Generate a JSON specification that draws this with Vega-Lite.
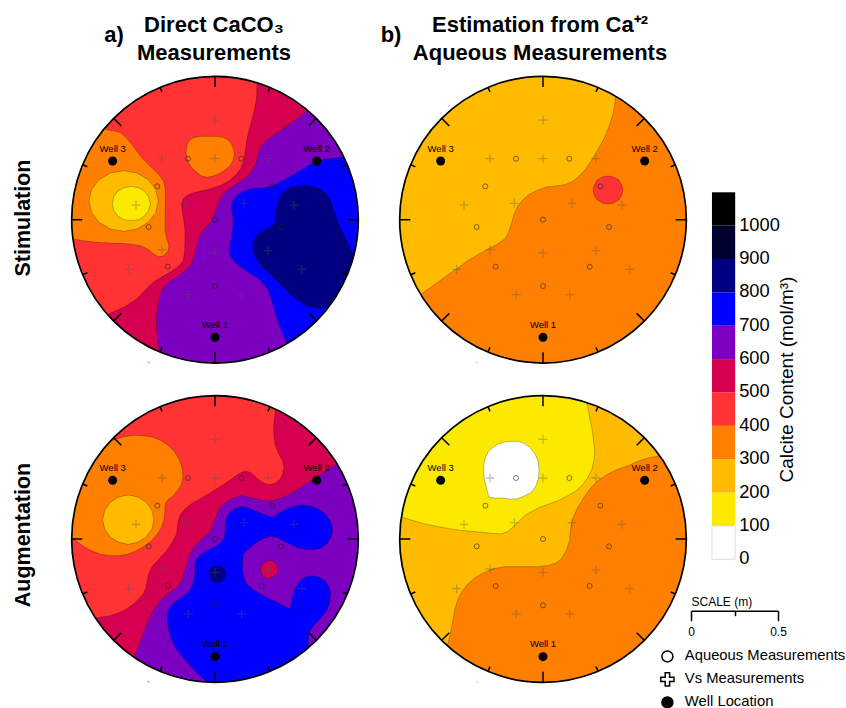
{"$schema":"https://vega.github.io/schema/vega-lite/v6.json","background":"white","padding":0,"autosize":{"type":"pad"},"config":{"view":{"stroke":null},"font":"Liberation Sans"},"datasets":{"center":[{"lon":0,"lat":0}],"stray":[{"type":"Feature","properties":{},"geometry":{"type":"LineString","coordinates":[[-203,-426],[-195,-431]]}}],"ticks":[{"type":"Feature","properties":{},"geometry":{"type":"MultiLineString","coordinates":[[[0,430],[0,398]],[[0,-430],[0,-398]],[[430,0],[398,0]],[[-430,0],[-398,0]],[[304,304],[281,281]],[[-304,304],[-281,281]],[[304,-304],[281,-281]],[[-304,-304],[-281,-281]],[[397,165],[383,159]],[[165,397],[159,383]],[[-397,165],[-383,159]],[[-165,397],[-159,383]],[[397,-165],[383,-159]],[[165,-397],[159,-383]],[[-397,-165],[-383,-159]],[[-165,-397],[-159,-383]]]}}],"aqueous":[{"lon":-81,"lat":183},{"lon":79,"lat":183},{"lon":-173,"lat":100},{"lon":172,"lat":100},{"lon":0,"lat":0},{"lon":-199,"lat":-22},{"lon":198,"lat":-22},{"lon":-142,"lat":-141},{"lon":140,"lat":-141},{"lon":0,"lat":-199}],"vs":[{"lon":0,"lat":299},{"lon":-159,"lat":183},{"lon":0,"lat":183},{"lon":159,"lat":183},{"lon":-237,"lat":44},{"lon":-86,"lat":49},{"lon":87,"lat":49},{"lon":237,"lat":44},{"lon":-159,"lat":-90},{"lon":0,"lat":-100},{"lon":159,"lat":-93},{"lon":-259,"lat":-149},{"lon":260,"lat":-149},{"lon":-80,"lat":-225},{"lon":80,"lat":-225}],"wells":[{"name":"Well 1","lon":0,"lat":-353},{"name":"Well 2","lon":305,"lat":176},{"name":"Well 3","lon":-307,"lat":176}],"bands":[{"low":0,"high":100},{"low":100,"high":200},{"low":200,"high":300},{"low":300,"high":400},{"low":400,"high":500},{"low":500,"high":600},{"low":600,"high":700},{"low":700,"high":800},{"low":800,"high":900},{"low":900,"high":1000},{"low":1000,"high":1100}],"legendItems":[{"kind":"Aqueous Measurements"},{"kind":"Vs Measurements"},{"kind":"Well Location"}],"scaleBar":[{"m":0},{"m":0.5}],
"map1":[
{"type":"Feature","properties":{"level":450},"geometry":{"type":"Polygon","coordinates":[[[-445,-445],[445,-445],[445,445],[-445,445],[-445,-445]]]}},
{"type":"Feature","properties":{"level":550},"geometry":{"type":"Polygon","coordinates":[[[127,445],[125,367],[119,332],[110,297],[102,267],[95,237],[91,205],[87,177],[78,155],[65,137],[43,117],[15,102],[-15,92],[-45,85],[-68,80],[-85,72],[-96,62],[-100,47],[-98,22],[-93,-3],[-90,-33],[-90,-63],[-91,-95],[-95,-123],[-112,-142],[-135,-158],[-160,-172],[-185,-188],[-210,-212],[-235,-238],[-272,-262],[-315,-281],[-350,-323],[-350,-445],[445,-445],[445,445],[127,445]]]}},
{"type":"Feature","properties":{"level":650},"geometry":{"type":"Polygon","coordinates":[[[270,322],[250,304],[225,287],[200,270],[175,252],[155,238],[140,222],[131,200],[125,177],[117,155],[105,137],[87,121],[65,107],[43,93],[25,77],[13,57],[5,37],[-2,17],[-10,-3],[-23,-20],[-40,-38],[-49,-57],[-55,-78],[-60,-105],[-70,-133],[-90,-155],[-115,-173],[-138,-187],[-155,-203],[-166,-232],[-172,-263],[-175,-293],[-175,-323],[-172,-358],[-167,-393],[-167,-445],[445,-445],[445,357],[325,357],[270,322]]]}},
{"type":"Feature","properties":{"level":750},"geometry":{"type":"Polygon","coordinates":[[[385,187],[335,182],[305,176],[280,162],[255,147],[225,129],[195,112],[170,101],[145,95],[125,94],[105,92],[83,84],[65,72],[54,58],[50,42],[52,20],[55,-3],[53,-28],[50,-53],[45,-73],[42,-93],[49,-115],[65,-133],[93,-153],[125,-173],[145,-191],[160,-213],[173,-250],[185,-293],[198,-330],[215,-368],[235,-445],[445,-445],[445,187],[385,187]]]}},
{"type":"Feature","properties":{"level":850},"geometry":{"type":"Polygon","coordinates":[[[235,99],[270,102],[295,99],[315,92],[333,79],[345,62],[353,40],[360,17],[367,-3],[375,-23],[385,-43],[395,-63],[413,-103],[435,-103],[435,-233],[355,-258],[325,-266],[300,-264],[275,-258],[250,-242],[225,-223],[205,-203],[185,-183],[165,-163],[145,-143],[130,-126],[120,-108],[114,-93],[113,-78],[117,-62],[125,-48],[138,-37],[155,-28],[170,-19],[180,-8],[184,12],[185,37],[192,60],[205,82],[218,93],[235,99]]]}},
{"type":"Feature","properties":{"level":350},"geometry":{"type":"Polygon","coordinates":[[[-345,287],[-325,270],[-305,267],[-285,262],[-267,247],[-250,227],[-235,207],[-220,187],[-200,166],[-180,147],[-164,130],[-153,112],[-149,90],[-148,67],[-149,42],[-150,17],[-150,-8],[-150,-33],[-145,-55],[-138,-78],[-140,-93],[-147,-103],[-158,-110],[-170,-111],[-183,-104],[-195,-93],[-210,-84],[-225,-78],[-255,-73],[-285,-71],[-320,-70],[-355,-68],[-390,-64],[-425,-58],[-445,-58],[-445,287],[-345,287]]]}},
{"type":"Feature","properties":{"level":250},"geometry":{"type":"Polygon","coordinates":[[[-170,56],[-178,91],[-200,120],[-234,140],[-274,147],[-314,140],[-348,120],[-370,91],[-378,56],[-370,21],[-348,-8],[-314,-28],[-274,-35],[-234,-28],[-200,-8],[-178,21],[-170,56]]]}},
{"type":"Feature","properties":{"level":150},"geometry":{"type":"Polygon","coordinates":[[[-194,48],[-199,68],[-211,85],[-229,96],[-251,100],[-274,96],[-292,85],[-304,68],[-308,48],[-304,28],[-292,11],[-274,0],[-251,-3],[-229,0],[-211,11],[-199,28],[-194,48]]]}},
{"type":"Feature","properties":{"level":350},"geometry":{"type":"Polygon","coordinates":[[[-87,202],[-85,222],[-78,236],[-65,246],[-45,250],[-25,250],[0,250],[25,247],[40,239],[50,227],[56,212],[58,197],[55,180],[45,162],[30,148],[10,137],[-8,130],[-25,127],[-42,132],[-55,142],[-70,156],[-80,172],[-85,187],[-87,202]]]}}],
"map2":[
{"type":"Feature","properties":{"level":450},"geometry":{"type":"Polygon","coordinates":[[[-445,-445],[445,-445],[445,445],[-445,445],[-445,-445]]]}},
{"type":"Feature","properties":{"level":550},"geometry":{"type":"Polygon","coordinates":[[[182,443],[182,385],[178,360],[176,335],[177,310],[180,285],[190,258],[203,235],[207,215],[203,195],[196,180],[185,170],[173,164],[160,163],[147,167],[135,175],[120,188],[105,200],[92,203],[80,200],[65,191],[50,180],[28,165],[5,150],[-20,135],[-45,120],[-70,106],[-90,90],[-103,74],[-110,55],[-113,35],[-115,15],[-128,-10],[-145,-35],[-168,-60],[-190,-85],[-199,-105],[-203,-125],[-207,-147],[-215,-165],[-238,-190],[-265,-210],[-290,-222],[-315,-230],[-360,-238],[-385,-255],[-385,-445],[445,-445],[445,443],[182,443]]]}},
{"type":"Feature","properties":{"level":650},"geometry":{"type":"Polygon","coordinates":[[[395,250],[365,225],[330,202],[295,180],[265,159],[235,140],[205,125],[175,115],[150,115],[125,120],[100,126],[75,130],[48,120],[25,105],[12,88],[5,70],[-4,47],[-15,25],[-28,10],[-45,-5],[-62,-24],[-75,-45],[-84,-70],[-90,-95],[-98,-120],[-110,-140],[-133,-158],[-160,-180],[-182,-210],[-200,-245],[-220,-298],[-240,-350],[-255,-445],[445,-445],[445,250],[395,250]]]}},
{"type":"Feature","properties":{"level":750},"geometry":{"type":"Polygon","coordinates":[[[-25,-445],[-25,-428],[-48,-408],[-70,-385],[-95,-356],[-120,-325],[-133,-295],[-140,-265],[-143,-240],[-140,-215],[-130,-199],[-115,-185],[-97,-173],[-80,-160],[-68,-142],[-62,-120],[-60,-97],[-60,-75],[-53,-58],[-40,-45],[-18,-32],[5,-20],[20,-8],[28,5],[31,25],[30,45],[35,64],[45,80],[58,91],[75,97],[95,95],[115,87],[135,78],[155,70],[165,67],[175,67],[195,79],[215,90],[237,98],[260,102],[287,99],[310,90],[331,75],[345,55],[351,38],[352,20],[346,2],[335,-15],[317,-27],[295,-32],[270,-31],[245,-25],[220,-13],[195,0],[180,6],[165,8],[145,1],[125,-10],[103,-27],[85,-45],[82,-70],[83,-95],[87,-117],[95,-135],[113,-151],[135,-165],[160,-178],[185,-190],[205,-200],[218,-208],[226,-208],[230,-190],[233,-170],[242,-145],[255,-125],[271,-114],[290,-110],[312,-114],[330,-125],[342,-144],[347,-165],[344,-190],[335,-215],[317,-238],[295,-260],[284,-277],[280,-295],[280,-325],[305,-335],[305,-445],[-25,-445]]]}},
{"type":"Feature","properties":{"level":850},"geometry":{"type":"Polygon","coordinates":[[[32,-105],[30,-95],[25,-87],[17,-82],[7,-80],[-3,-82],[-11,-87],[-16,-95],[-18,-105],[-16,-115],[-11,-123],[-3,-129],[7,-131],[17,-129],[25,-123],[30,-115],[32,-105]]]}},
{"type":"Feature","properties":{"level":550},"geometry":{"type":"Polygon","coordinates":[[[190,-91],[188,-80],[181,-71],[172,-66],[163,-65],[152,-67],[144,-74],[138,-83],[136,-93],[139,-104],[146,-113],[155,-118],[164,-118],[174,-113],[183,-106],[188,-99],[190,-91]]]}},
{"type":"Feature","properties":{"level":350},"geometry":{"type":"Polygon","coordinates":[[[-335,307],[-310,295],[-288,303],[-265,308],[-240,311],[-215,310],[-190,306],[-165,297],[-140,281],[-120,260],[-106,236],[-98,210],[-96,187],[-100,165],[-111,147],[-125,130],[-138,120],[-147,110],[-150,96],[-150,80],[-153,58],[-160,35],[-173,14],[-190,-5],[-212,-22],[-235,-35],[-262,-46],[-290,-50],[-318,-50],[-345,-45],[-368,-37],[-390,-25],[-412,-10],[-430,5],[-445,5],[-445,305],[-335,307]]]}},
{"type":"Feature","properties":{"level":250},"geometry":{"type":"Polygon","coordinates":[[[-183,58],[-189,86],[-206,110],[-231,126],[-260,132],[-289,126],[-314,110],[-331,86],[-337,58],[-331,30],[-314,6],[-289,-10],[-260,-16],[-231,-10],[-206,6],[-189,30],[-183,58]]]}}],
"map3":[
{"type":"Feature","properties":{"level":350},"geometry":{"type":"Polygon","coordinates":[[[-445,-445],[445,-445],[445,445],[-445,445],[-445,-445]]]}},
{"type":"Feature","properties":{"level":250},"geometry":{"type":"Polygon","coordinates":[[[218,445],[218,367],[215,342],[210,317],[199,282],[185,247],[166,212],[145,177],[126,150],[105,127],[86,113],[65,105],[40,101],[15,99],[-13,90],[-40,77],[-60,60],[-75,42],[-87,15],[-95,-13],[-103,-38],[-115,-58],[-137,-74],[-165,-88],[-195,-105],[-225,-123],[-260,-148],[-295,-173],[-362,-221],[-385,-238],[-445,-238],[-445,445],[218,445]]]}},
{"type":"Feature","properties":{"level":450},"geometry":{"type":"Polygon","coordinates":[[[240,89],[236,105],[227,119],[212,128],[195,131],[178,128],[163,119],[154,105],[150,89],[154,73],[163,59],[178,50],[195,47],[212,50],[227,59],[236,73],[240,89]]]}}],
"map4":[
{"type":"Feature","properties":{"level":250},"geometry":{"type":"Polygon","coordinates":[[[-445,-445],[445,-445],[445,445],[-445,445],[-445,-445]]]}},
{"type":"Feature","properties":{"level":350},"geometry":{"type":"Polygon","coordinates":[[[365,265],[345,248],[325,245],[305,240],[280,231],[255,220],[225,209],[195,195],[168,177],[145,155],[124,127],[105,95],[93,70],[85,45],[82,20],[80,-5],[70,-35],[55,-60],[37,-73],[15,-80],[-15,-83],[-45,-83],[-80,-83],[-115,-83],[-147,-89],[-175,-100],[-202,-115],[-225,-135],[-242,-156],[-255,-180],[-264,-210],[-270,-245],[-277,-280],[-285,-313],[-305,-335],[-305,-445],[445,-445],[445,265],[365,265]]]}},
{"type":"Feature","properties":{"level":150},"geometry":{"type":"Polygon","coordinates":[[[132,443],[132,410],[136,388],[140,365],[147,330],[152,295],[155,265],[153,235],[146,208],[135,185],[120,164],[100,145],[73,129],[45,115],[18,105],[-10,95],[-33,83],[-55,70],[-73,52],[-90,35],[-107,22],[-125,15],[-155,17],[-185,20],[-225,24],[-265,28],[-310,36],[-355,45],[-422,65],[-445,65],[-445,443],[132,443]]]}},
{"type":"Feature","properties":{"level":50},"geometry":{"type":"Polygon","coordinates":[[[-95,293],[-115,291],[-135,285],[-152,274],[-165,260],[-174,241],[-178,220],[-178,197],[-175,175],[-169,150],[-162,125],[-145,123],[-125,123],[-103,120],[-80,120],[-57,128],[-35,140],[-21,160],[-13,185],[-12,210],[-15,235],[-25,257],[-40,275],[-57,287],[-75,293],[-95,293]]]}}],
"textA":[{"label":"a)","lon":-303,"lat":554},{"label":"Direct CaCO₃","lon":-3,"lat":584},{"label":"Measurements","lon":-3,"lat":500}],"textB":[{"label":"b)","lon":-456,"lat":554},{"label":"Estimation from Ca⁺²","lon":-9,"lat":584},{"label":"Aqueous Measurements","lon":-9,"lat":500}],"rowA":[{"label":"Stimulation","lon":-573,"lat":5}],"rowB":[{"label":"Augmentation","lon":-573,"lat":12}]},
"columns":3,"align":"each","bounds":"flush","spacing":0,"resolve":{"scale":{"fill":"independent","shape":"independent","stroke":"independent"},"legend":{"fill":"independent","shape":"independent","stroke":"independent"}},
"concat":[
{"width":379,"height":394,"projection":{"type":"identity","reflectY":true,"scale":0.33333,"translate":[215,219.7],"coefficient":1},"layer":[
{"data":{"name":"map1"},"mark":{"type":"geoshape","stroke":"#000","strokeWidth":0.5,"strokeOpacity":0.5},"encoding":{"fill":{"field":"properties.level","type":"quantitative","legend":null,"scale":{"type":"threshold","domain":[100,200,300,400,500,600,700,800,900,1000],"range":["#FFFFFF","#FBEA00","#FFBB00","#FF8000","#FF3333","#D60050","#7B00BF","#0000FF","#000080","#00002F","#000000"]}}}},
{"data":{"name":"center"},"mark":{"type":"point","shape":"M-1.06,-1.06H1.06V1.06H-1.06Z M1,0A1,1 0 1 0 -1,0A1,1 0 1 0 1,0Z","size":82178,"filled":true,"fill":"white","stroke":null,"opacity":1},"encoding":{"longitude":{"field":"lon","type":"quantitative"},"latitude":{"field":"lat","type":"quantitative"}}},
{"data":{"name":"stray"},"mark":{"type":"geoshape","filled":false,"stroke":"#E86CA0","strokeWidth":1},"encoding":{}},
{"data":{"name":"ticks"},"mark":{"type":"geoshape","filled":false,"stroke":"black","strokeWidth":1.5},"encoding":{}},
{"data":{"name":"center"},"mark":{"type":"point","shape":"circle","size":82178,"filled":false,"stroke":"black","strokeWidth":1.7,"opacity":1},"encoding":{"longitude":{"field":"lon","type":"quantitative"},"latitude":{"field":"lat","type":"quantitative"}}},
{"data":{"name":"vs"},"mark":{"type":"point","shape":"M-1,0H1M0,-1V1","size":81,"filled":false,"stroke":"#555","strokeWidth":1.3,"opacity":0.35},"encoding":{"longitude":{"field":"lon","type":"quantitative"},"latitude":{"field":"lat","type":"quantitative"}}},
{"data":{"name":"aqueous"},"mark":{"type":"point","shape":"circle","size":25,"filled":false,"stroke":"#222","strokeWidth":0.8,"opacity":0.75},"encoding":{"longitude":{"field":"lon","type":"quantitative"},"latitude":{"field":"lat","type":"quantitative"}}},
{"data":{"name":"wells"},"mark":{"type":"point","shape":"circle","size":81,"filled":true,"fill":"black","stroke":null,"opacity":1},"encoding":{"longitude":{"field":"lon","type":"quantitative"},"latitude":{"field":"lat","type":"quantitative"}}},
{"data":{"name":"wells"},"mark":{"type":"text","fontSize":9.5,"dy":-12.5,"color":"black"},"encoding":{"longitude":{"field":"lon","type":"quantitative"},"latitude":{"field":"lat","type":"quantitative"},"text":{"field":"name"}}},
{"data":{"name":"textA"},"mark":{"type":"text","fontSize":22,"fontWeight":"bold","color":"black"},"encoding":{"longitude":{"field":"lon","type":"quantitative"},"latitude":{"field":"lat","type":"quantitative"},"text":{"field":"label"}}},
{"data":{"name":"rowA"},"mark":{"type":"text","fontSize":21.5,"fontWeight":"bold","angle":270,"color":"black"},"encoding":{"longitude":{"field":"lon","type":"quantitative"},"latitude":{"field":"lat","type":"quantitative"},"text":{"field":"label"}}}
]},
{"width":312,"height":394,"projection":{"type":"identity","reflectY":true,"scale":0.33333,"translate":[164,219.7],"coefficient":2},"layer":[
{"data":{"name":"map3"},"mark":{"type":"geoshape","stroke":"#000","strokeWidth":0.5,"strokeOpacity":0.5},"encoding":{"fill":{"field":"properties.level","type":"quantitative","legend":null,"scale":{"type":"threshold","domain":[100,200,300,400,500,600,700,800,900,1000],"range":["#FFFFFF","#FBEA00","#FFBB00","#FF8000","#FF3333","#D60050","#7B00BF","#0000FF","#000080","#00002F","#000000"]}}}},
{"data":{"name":"center"},"mark":{"type":"point","shape":"M-1.06,-1.06H1.06V1.06H-1.06Z M1,0A1,1 0 1 0 -1,0A1,1 0 1 0 1,0Z","size":82178,"filled":true,"fill":"white","stroke":null,"opacity":1},"encoding":{"longitude":{"field":"lon","type":"quantitative"},"latitude":{"field":"lat","type":"quantitative"}}},
{"data":{"name":"stray"},"mark":{"type":"geoshape","filled":false,"stroke":"#FFC090","strokeWidth":1},"encoding":{}},
{"data":{"name":"ticks"},"mark":{"type":"geoshape","filled":false,"stroke":"black","strokeWidth":1.5},"encoding":{}},
{"data":{"name":"center"},"mark":{"type":"point","shape":"circle","size":82178,"filled":false,"stroke":"black","strokeWidth":1.7,"opacity":1},"encoding":{"longitude":{"field":"lon","type":"quantitative"},"latitude":{"field":"lat","type":"quantitative"}}},
{"data":{"name":"vs"},"mark":{"type":"point","shape":"M-1,0H1M0,-1V1","size":81,"filled":false,"stroke":"#555","strokeWidth":1.3,"opacity":0.35},"encoding":{"longitude":{"field":"lon","type":"quantitative"},"latitude":{"field":"lat","type":"quantitative"}}},
{"data":{"name":"aqueous"},"mark":{"type":"point","shape":"circle","size":25,"filled":false,"stroke":"#222","strokeWidth":0.8,"opacity":0.75},"encoding":{"longitude":{"field":"lon","type":"quantitative"},"latitude":{"field":"lat","type":"quantitative"}}},
{"data":{"name":"wells"},"mark":{"type":"point","shape":"circle","size":81,"filled":true,"fill":"black","stroke":null,"opacity":1},"encoding":{"longitude":{"field":"lon","type":"quantitative"},"latitude":{"field":"lat","type":"quantitative"}}},
{"data":{"name":"wells"},"mark":{"type":"text","fontSize":9.5,"dy":-12.5,"color":"black"},"encoding":{"longitude":{"field":"lon","type":"quantitative"},"latitude":{"field":"lat","type":"quantitative"},"text":{"field":"name"}}},
{"data":{"name":"textB"},"mark":{"type":"text","fontSize":22,"fontWeight":"bold","color":"black"},"encoding":{"longitude":{"field":"lon","type":"quantitative"},"latitude":{"field":"lat","type":"quantitative"},"text":{"field":"label"}}}
]},
{"width":47,"height":394,"data":{"name":"bands"},"encoding":{"y":{"field":"low","type":"quantitative","scale":{"domain":[495.4,1676.4],"nice":false,"zero":false},"axis":{"orient":"right","labels":false,"domain":false,"ticks":false,"grid":false,"title":"Calcite Content (mol/m³)","titleFontSize":19,"titleFontWeight":"normal","titleColor":"black","titleAngle":270,"titleX":58,"titleY":379}}},"layer":[
{"mark":{"type":"rect"},"encoding":{"x":{"datum":22.3,"type":"quantitative","scale":{"domain":[0,47]},"axis":null},"x2":{"datum":47},"y2":{"field":"high"},"fill":{"field":"low","type":"quantitative","legend":null,"scale":{"type":"threshold","domain":[100,200,300,400,500,600,700,800,900,1000],"range":["#FFFFFF","#FBEA00","#FFBB00","#FF8000","#FF3333","#D60050","#7B00BF","#0000FF","#000080","#00002F","#000000"]}},"stroke":{"condition":{"test":"datum.low==0","value":"#ddd"},"value":null}}},
{"mark":{"type":"text","align":"left","dx":4,"fontSize":18.3,"color":"black"},"encoding":{"x":{"datum":47,"type":"quantitative"},"text":{"field":"low","type":"quantitative","format":"d"}}}
]},
{"width":379,"height":314,"projection":{"type":"identity","reflectY":true,"scale":0.33333,"translate":[215,145],"coefficient":3},"layer":[
{"data":{"name":"map2"},"mark":{"type":"geoshape","stroke":"#000","strokeWidth":0.5,"strokeOpacity":0.5},"encoding":{"fill":{"field":"properties.level","type":"quantitative","legend":null,"scale":{"type":"threshold","domain":[100,200,300,400,500,600,700,800,900,1000],"range":["#FFFFFF","#FBEA00","#FFBB00","#FF8000","#FF3333","#D60050","#7B00BF","#0000FF","#000080","#00002F","#000000"]}}}},
{"data":{"name":"center"},"mark":{"type":"point","shape":"M-1.06,-1.06H1.06V1.06H-1.06Z M1,0A1,1 0 1 0 -1,0A1,1 0 1 0 1,0Z","size":82178,"filled":true,"fill":"white","stroke":null,"opacity":1},"encoding":{"longitude":{"field":"lon","type":"quantitative"},"latitude":{"field":"lat","type":"quantitative"}}},
{"data":{"name":"stray"},"mark":{"type":"geoshape","filled":false,"stroke":"#B080D0","strokeWidth":1},"encoding":{}},
{"data":{"name":"ticks"},"mark":{"type":"geoshape","filled":false,"stroke":"black","strokeWidth":1.5},"encoding":{}},
{"data":{"name":"center"},"mark":{"type":"point","shape":"circle","size":82178,"filled":false,"stroke":"black","strokeWidth":1.7,"opacity":1},"encoding":{"longitude":{"field":"lon","type":"quantitative"},"latitude":{"field":"lat","type":"quantitative"}}},
{"data":{"name":"vs"},"mark":{"type":"point","shape":"M-1,0H1M0,-1V1","size":81,"filled":false,"stroke":"#555","strokeWidth":1.3,"opacity":0.35},"encoding":{"longitude":{"field":"lon","type":"quantitative"},"latitude":{"field":"lat","type":"quantitative"}}},
{"data":{"name":"aqueous"},"mark":{"type":"point","shape":"circle","size":25,"filled":false,"stroke":"#222","strokeWidth":0.8,"opacity":0.75},"encoding":{"longitude":{"field":"lon","type":"quantitative"},"latitude":{"field":"lat","type":"quantitative"}}},
{"data":{"name":"wells"},"mark":{"type":"point","shape":"circle","size":81,"filled":true,"fill":"black","stroke":null,"opacity":1},"encoding":{"longitude":{"field":"lon","type":"quantitative"},"latitude":{"field":"lat","type":"quantitative"}}},
{"data":{"name":"wells"},"mark":{"type":"text","fontSize":9.5,"dy":-12.5,"color":"black"},"encoding":{"longitude":{"field":"lon","type":"quantitative"},"latitude":{"field":"lat","type":"quantitative"},"text":{"field":"name"}}},
{"data":{"name":"rowB"},"mark":{"type":"text","fontSize":21.5,"fontWeight":"bold","angle":270,"color":"black"},"encoding":{"longitude":{"field":"lon","type":"quantitative"},"latitude":{"field":"lat","type":"quantitative"},"text":{"field":"label"}}}
]},
{"width":312,"height":314,"projection":{"type":"identity","reflectY":true,"scale":0.33333,"translate":[164,145],"coefficient":4},"layer":[
{"data":{"name":"map4"},"mark":{"type":"geoshape","stroke":"#000","strokeWidth":0.5,"strokeOpacity":0.5},"encoding":{"fill":{"field":"properties.level","type":"quantitative","legend":null,"scale":{"type":"threshold","domain":[100,200,300,400,500,600,700,800,900,1000],"range":["#FFFFFF","#FBEA00","#FFBB00","#FF8000","#FF3333","#D60050","#7B00BF","#0000FF","#000080","#00002F","#000000"]}}}},
{"data":{"name":"center"},"mark":{"type":"point","shape":"M-1.06,-1.06H1.06V1.06H-1.06Z M1,0A1,1 0 1 0 -1,0A1,1 0 1 0 1,0Z","size":82178,"filled":true,"fill":"white","stroke":null,"opacity":1},"encoding":{"longitude":{"field":"lon","type":"quantitative"},"latitude":{"field":"lat","type":"quantitative"}}},
{"data":{"name":"stray"},"mark":{"type":"geoshape","filled":false,"stroke":"#FFC090","strokeWidth":1},"encoding":{}},
{"data":{"name":"ticks"},"mark":{"type":"geoshape","filled":false,"stroke":"black","strokeWidth":1.5},"encoding":{}},
{"data":{"name":"center"},"mark":{"type":"point","shape":"circle","size":82178,"filled":false,"stroke":"black","strokeWidth":1.7,"opacity":1},"encoding":{"longitude":{"field":"lon","type":"quantitative"},"latitude":{"field":"lat","type":"quantitative"}}},
{"data":{"name":"vs"},"mark":{"type":"point","shape":"M-1,0H1M0,-1V1","size":81,"filled":false,"stroke":"#555","strokeWidth":1.3,"opacity":0.35},"encoding":{"longitude":{"field":"lon","type":"quantitative"},"latitude":{"field":"lat","type":"quantitative"}}},
{"data":{"name":"aqueous"},"mark":{"type":"point","shape":"circle","size":25,"filled":false,"stroke":"#222","strokeWidth":0.8,"opacity":0.75},"encoding":{"longitude":{"field":"lon","type":"quantitative"},"latitude":{"field":"lat","type":"quantitative"}}},
{"data":{"name":"wells"},"mark":{"type":"point","shape":"circle","size":81,"filled":true,"fill":"black","stroke":null,"opacity":1},"encoding":{"longitude":{"field":"lon","type":"quantitative"},"latitude":{"field":"lat","type":"quantitative"}}},
{"data":{"name":"wells"},"mark":{"type":"text","fontSize":9.5,"dy":-12.5,"color":"black"},"encoding":{"longitude":{"field":"lon","type":"quantitative"},"latitude":{"field":"lat","type":"quantitative"},"text":{"field":"name"}}}
]},
{"width":87,"height":216.7,"layer":[
{"data":{"name":"scaleBar"},"mark":{"type":"point","opacity":0},"encoding":{"x":{"field":"m","type":"quantitative","scale":{"domain":[0,0.5],"nice":false},"axis":{"orient":"bottom","values":[0,0.25,0.5],"grid":false,"domainColor":"black","domainWidth":1.5,"tickColor":"black","tickWidth":1.5,"tickSize":{"condition":{"test":"datum.value==0.25","value":5},"value":10},"labelExpr":"datum.value==0?'0':datum.value==0.5?'0.5':''","labelFontSize":12,"labelColor":"black","labelPadding":6,"labelFlush":false,"title":"SCALE (m)","titleFontSize":12,"titleFontWeight":"normal","titleColor":"black","titleAlign":"left","titleBaseline":"bottom","titleX":0,"titleY":-2}}}},
{"data":{"name":"legendItems"},"transform":[{"filter":"false"}],"mark":{"type":"point","size":121,"filled":true,"stroke":"black","strokeWidth":1.3,"opacity":1},"encoding":{"shape":{"field":"kind","type":"nominal","scale":{"domain":["Aqueous Measurements","Vs Measurements","Well Location"],"range":["circle","M-0.4,-1.2H0.4V-0.4H1.2V0.4H0.4V1.2H-0.4V0.4H-1.2V-0.4H-0.4Z","circle"]},"legend":{"title":null,"orient":"none","legendX":-31,"legendY":255,"labelFontSize":14.8,"labelColor":"black","rowPadding":4,"labelOffset":10,"symbolSize":121,"labelLimit":300,"padding":0}},"fill":{"field":"kind","type":"nominal","scale":{"domain":["Aqueous Measurements","Vs Measurements","Well Location"],"range":["white","white","black"]},"legend":{"title":null,"orient":"none","legendX":-31,"legendY":255,"labelFontSize":14.8,"labelColor":"black","rowPadding":4,"labelOffset":10,"symbolSize":121,"labelLimit":300,"padding":0}}}}
]}
]}
